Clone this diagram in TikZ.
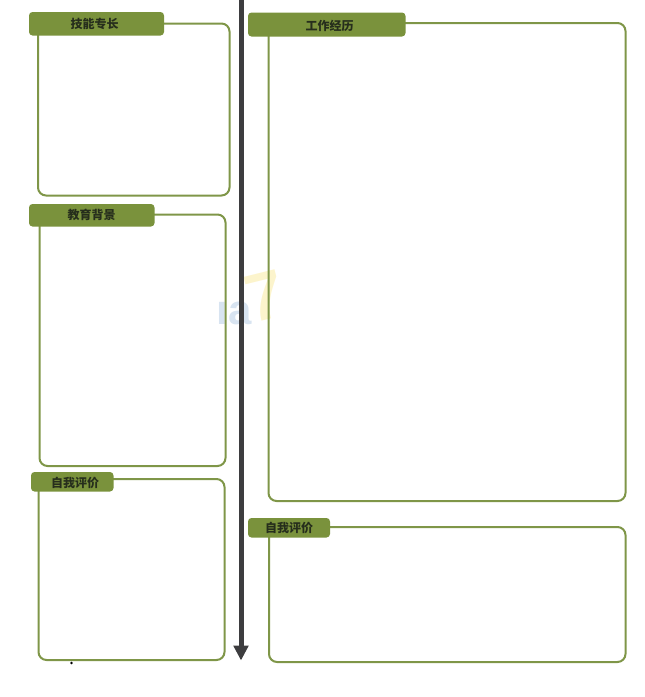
\documentclass[tikz,border=0pt]{standalone}
\usepackage{fontspec}
\usetikzlibrary{arrows.meta}
\setmainfont{Liberation Sans}
\newfontfamily\cjk{Noto Sans CJK SC}
\definecolor{leaf}{HTML}{7A923C}
\definecolor{rim}{HTML}{7F9648}
\definecolor{ink}{HTML}{262E1C}
\definecolor{shaft}{HTML}{3D3D3F}
\definecolor{markblue}{HTML}{D8E4F1}
\definecolor{markyellow}{HTML}{FCF4CC}
\tikzset{
  panelbox/.style={draw=rim,line width=2pt,rounded corners=8pt,anchor=north west,inner sep=0pt,outer sep=0pt},
  tabhead/.style={fill=leaf,rounded corners=3.5pt,anchor=north west,inner sep=0pt,outer sep=0pt},
  tabtext/.style={font=\cjk\bfseries\fontsize{12}{13}\selectfont,text=ink,inner sep=0pt},
  markfont/.style={font=\bfseries\fontsize{#1}{#1}\selectfont,inner sep=0pt}
}
\begin{document}
\begin{tikzpicture}[x=1pt,y=-1pt]
    \useasboundingbox (0,0) rectangle (645,697);
    % Watermark
    \node[markfont=42,text=markblue] (markleft) at (234,313) {ıa};
    \node[markfont=68,text=markyellow,rotate=14] (markright) at (265,296) {7};
    % Panels
    \node[panelbox,minimum width=191.5pt,minimum height=172pt] (skillbox) at (38,23.5) {};
    \node[panelbox,minimum width=186pt,minimum height=251.5pt] (edubox) at (39.5,214.5) {};
    \node[panelbox,minimum width=186pt,minimum height=181pt] (selfboxl) at (38.5,479) {};
    \node[panelbox,minimum width=357pt,minimum height=478pt] (workbox) at (268.5,23) {};
    \node[panelbox,minimum width=356.5pt,minimum height=135pt] (selfboxr) at (269,527) {};
    % Arrow
    \coordinate (top) at (241,0);
    \coordinate (tip) at (241,660.5);
    \draw[shaft,line width=5pt,-{Triangle[length=15pt,width=14.5pt]}] (top) -- (tip);
    % Tabs
    \node[tabhead,minimum width=135pt,minimum height=23.5pt] (skilltab) at (29,12) {};
    \node[tabhead,minimum width=125.5pt,minimum height=22.5pt] (edutab) at (29,204) {};
    \node[tabhead,minimum width=82.5pt,minimum height=19.5pt] (selftabl) at (31,472) {};
    \node[tabhead,minimum width=157.5pt,minimum height=24pt] (worktab) at (248,12.5) {};
    \node[tabhead,minimum width=82pt,minimum height=19.5pt] (selftabr) at (248,518) {};
    % Labels
    \node[tabtext] (skilltext) at (94.5,24) {技能专长};
    \node[tabtext] (edutext) at (91.5,215) {教育背景};
    \node[tabtext] (selftextl) at (75,483) {自我评价};
    \node[tabtext] (worktext) at (329.5,26) {工作经历};
    \node[tabtext] (selftextr) at (289,528) {自我评价};
    % Dot
    \fill[black] (71.5,663) circle (1.4pt);
\end{tikzpicture}
\end{document}
